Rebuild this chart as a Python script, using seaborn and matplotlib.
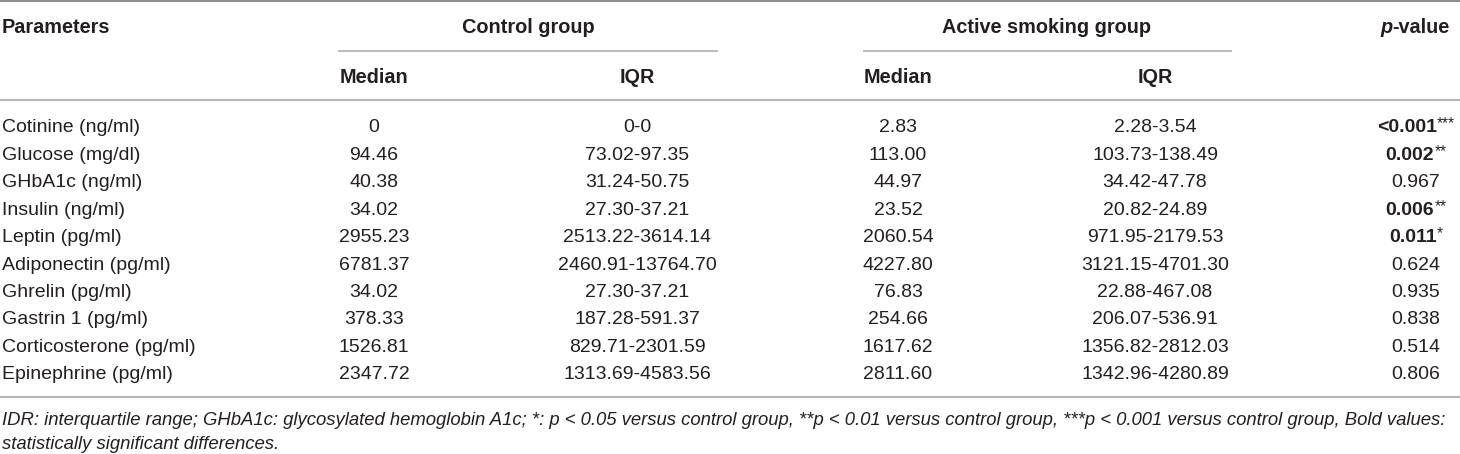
import numpy as np
import pandas as pd
import matplotlib
matplotlib.use('Agg')
import matplotlib.pyplot as plt
import seaborn as sns

# Table content
parameters = ['Cotinine (ng/ml)', 'Glucose (mg/dl)', 'GHbA1c (ng/ml)', 'Insulin (ng/ml)',
              'Leptin (pg/ml)', 'Adiponectin (pg/ml)', 'Ghrelin (pg/ml)', 'Gastrin 1 (pg/ml)',
              'Corticosterone (pg/ml)', 'Epinephrine (pg/ml)']
control_median = ['0', '94.46', '40.38', '34.02', '2955.23', '6781.37', '34.02', '378.33',
                  '1526.81', '2347.72']
control_iqr = ['0-0', '73.02-97.35', '31.24-50.75', '27.30-37.21', '2513.22-3614.14',
               '2460.91-13764.70', '27.30-37.21', '187.28-591.37', '829.71-2301.59',
               '1313.69-4583.56']
smoking_median = ['2.83', '113.00', '44.97', '23.52', '2060.54', '4227.80', '76.83', '254.66',
                  '1617.62', '2811.60']
smoking_iqr = ['2.28-3.54', '103.73-138.49', '34.42-47.78', '20.82-24.89', '971.95-2179.53',
               '3121.15-4701.30', '22.88-467.08', '206.07-536.91', '1356.82-2812.03',
               '1342.96-4280.89']
p_values = ['<0.001', '0.002', '0.967', '0.006', '0.011', '0.624', '0.935', '0.838', '0.514', '0.806']
stars = ['***', '**', '', '**', '*', '', '', '', '', '']

footnote = ['IDR: interquartile range; GHbA1c: glycosylated hemoglobin A1c; *: p < 0.05 versus control group, '
            '**p < 0.01 versus control group, ***p < 0.001 versus control group, Bold values:',
            'statistically significant differences.']

df = pd.DataFrame({'param': parameters, 'c_med': control_median, 'c_iqr': control_iqr,
                   's_med': smoking_median, 's_iqr': smoking_iqr, 'p': p_values, 'stars': stars})

sns.set_theme(style='white')
plt.rcParams['font.family'] = ['Liberation Sans', 'DejaVu Sans']

W, H = 1460, 454
fig = plt.figure(figsize=(W / 100, H / 100), dpi=100)
ax = fig.add_axes([0, 0, 1, 1])
ax.set_xlim(0, W)
ax.set_ylim(H, 0)
ax.axis('off')

txt = '#231f20'
rule = '#b5b5b5'
fs = 14.0      # body
fs_head = 14.3  # header
fs_note = 13.35  # footnote

col_x = {'c_med': 374, 'c_iqr': 637, 's_med': 898, 's_iqr': 1155}
p_x = 1416
row0, row_h = 132.5, 27.4

renderer = fig.canvas.get_renderer()

def width_of(t):
    bb = t.get_window_extent(renderer=renderer)
    return bb.width

def mixed(x, y, parts):
    '''Draw several text pieces side by side, centred as a whole on x.
    parts: list of (string, kwargs, dy)'''
    items = []
    for s, kw, dy in parts:
        t = ax.text(0, y + dy, s, ha='left', va='baseline', color=txt, **kw)
        items.append(t)
    widths = [width_of(t) for t in items]
    x0 = x - sum(widths) / 2
    for t, w in zip(items, widths):
        t.set_x(x0)
        x0 += w

# rules
ax.hlines(1, 0, W, color='#8f8f8f', lw=1.5)
ax.hlines(51, 338, 718, color=rule, lw=1.3)
ax.hlines(51, 863, 1232, color=rule, lw=1.3)
ax.hlines(100, 0, W, color=rule, lw=1.5)
ax.hlines(397, 0, W, color=rule, lw=1.5)

# header
hb = 33.3
ax.text(2, hb, 'Parameters', ha='left', va='baseline', fontsize=fs_head, fontweight='bold', color=txt)
ax.text(528, hb, 'Control group', ha='center', va='baseline', fontsize=fs_head, fontweight='bold', color=txt)
ax.text(1047, hb, 'Active smoking group', ha='center', va='baseline', fontsize=fs_head, fontweight='bold', color=txt)
mixed(1415, hb, [('p', dict(fontsize=fs_head, fontweight='bold', fontstyle='italic'), 0),
                 ('-value', dict(fontsize=fs_head, fontweight='bold'), 0)])
for key, lab in zip(['c_med', 'c_iqr', 's_med', 's_iqr'], ['Median', 'IQR', 'Median', 'IQR']):
    ax.text(col_x[key], 83.3, lab, ha='center', va='baseline', fontsize=fs_head, fontweight='bold', color=txt)

# body
for i, r in df.iterrows():
    y = row0 + i * row_h
    ax.text(2, y, r['param'], ha='left', va='baseline', fontsize=fs, color=txt)
    for key in col_x:
        ax.text(col_x[key], y, r[key], ha='center', va='baseline', fontsize=fs, color=txt)
    if r['stars']:
        mixed(p_x, y, [(r['p'], dict(fontsize=fs, fontweight='bold'), 0),
                       (r['stars'], dict(fontsize=fs * 0.8), -4)])
    else:
        ax.text(p_x, y, r['p'], ha='center', va='baseline', fontsize=fs, color=txt)

# footnote
ax.text(2, 425, footnote[0], ha='left', va='baseline', fontsize=fs_note, fontstyle='italic', color=txt)
ax.text(2, 449, footnote[1], ha='left', va='baseline', fontsize=fs_note, fontstyle='italic', color=txt)

fig.savefig('out.png', dpi=100, facecolor='white')
